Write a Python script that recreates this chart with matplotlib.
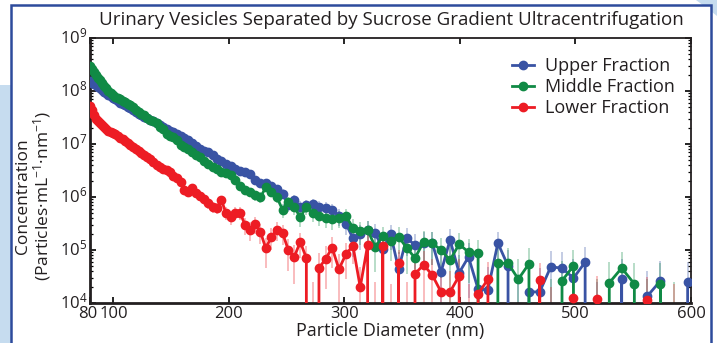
import numpy as np
import matplotlib.pyplot as plt
from matplotlib.patches import Rectangle, Polygon
from matplotlib.transforms import ScaledTranslation
from matplotlib.ticker import FixedLocator

plt.rcParams['font.family'] = ['Open Sans', 'DejaVu Sans']
plt.rcParams['mathtext.fontset'] = 'custom'
plt.rcParams['mathtext.rm'] = 'Open Sans'
plt.rcParams['mathtext.it'] = 'Open Sans:italic'
plt.rcParams['mathtext.bf'] = 'Open Sans:bold'

# %% data (log10 of concentration, None = zero count)
diameter = [
    80.0, 81.6, 83.3, 85.0, 86.7, 88.5, 90.3, 92.1, 94.0, 95.9,
    97.8, 99.8, 101.8, 103.9, 106.0, 108.2, 110.3, 112.6, 114.9, 117.2,
    119.6, 122.0, 124.5, 127.0, 129.6, 132.2, 134.9, 137.6, 140.5, 143.3,
    146.2, 149.2, 152.2, 155.3, 158.4, 161.7, 165.0, 168.3, 171.7, 175.2,
    178.7, 182.4, 186.1, 189.9, 193.7, 197.6, 201.6, 205.8, 209.9, 214.2,
    218.6, 223.0, 227.5, 232.1, 236.9, 241.6, 246.6, 251.6, 256.7, 261.9,
    267.2, 272.6, 278.1, 283.8, 289.5, 295.4, 301.4, 307.5, 313.8, 320.2,
    326.7, 333.3, 340.1, 347.0, 354.0, 361.2, 368.6, 376.1, 383.7, 391.5,
    399.4, 407.5, 415.8, 424.3, 432.9, 441.7, 450.6, 459.8, 469.1, 478.6,
    488.4, 498.3, 508.4, 518.7, 529.3, 540.0, 551.0, 562.2, 573.6, 585.2,
    597.1]

upper_log = [
    8.18, 8.16, 8.13, 8.11, 8.08, 8.05, 8.02, 7.99, 7.96, 7.93,
    7.90, 7.87, 7.84, 7.81, 7.78, 7.76, 7.73, 7.70, 7.67, 7.64,
    7.60, 7.57, 7.54, 7.51, 7.49, 7.46, 7.43, 7.40, 7.36, 7.33,
    7.29, 7.25, 7.22, 7.18, 7.15, 7.11, 7.07, 7.02, 6.97, 6.91,
    6.87, 6.84, 6.79, 6.72, 6.67, 6.62, 6.58, 6.52, 6.49, 6.47,
    6.43, 6.33, 6.27, 6.26, 6.20, 6.16, 6.06, 5.85, 5.94, 5.81,
    5.84, 5.86, 5.81, 5.79, 5.76, 5.64, 5.50, 5.22, 5.30, 5.38,
    5.32, 5.02, 5.30, 4.64, 5.23, 5.09, 5.13, 5.13, 4.58, 5.19,
    4.57, 4.87, 4.26, 4.25, 5.13, 4.70, None, 4.21, 4.21, 4.68,
    4.66, 4.47, 4.77, None, None, 4.45, None, 4.13, 4.42, None,
    4.40]

middle_log = [
    8.47, 8.42, 8.36, 8.30, 8.25, 8.20, 8.15, 8.10, 8.05, 8.00,
    7.96, 7.92, 7.89, 7.86, 7.84, 7.81, 7.79, 7.76, 7.73, 7.69,
    7.65, 7.61, 7.57, 7.54, 7.50, 7.46, 7.43, 7.39, 7.33, 7.28,
    7.18, 7.16, 7.14, 7.08, 6.98, 6.95, 6.90, 6.85, 6.80, 6.75,
    6.68, 6.62, 6.56, 6.52, 6.48, 6.45, 6.42, 6.33, 6.20, 6.13,
    6.10, 6.03, 6.00, 6.18, 6.09, 6.00, 5.76, 5.91, 5.81, 5.62,
    5.81, 5.70, 5.64, 5.60, 5.58, 5.61, 5.64, 5.42, 5.36, 5.38,
    5.06, 5.26, 5.17, 5.25, 5.04, 4.85, 5.15, 5.13, 5.00, 4.81,
    5.11, 4.96, 4.94, None, 4.75, 4.75, 4.45, 4.74, None, None,
    4.42, 4.70, None, None, 4.38, 4.66, 4.36, None, 4.36, None,
    None]

lower_log = [
    7.72, 7.64, 7.55, 7.48, 7.44, 7.40, 7.36, 7.32, 7.28, 7.24,
    7.22, 7.21, 7.19, 7.16, 7.12, 7.09, 7.06, 7.02, 6.99, 6.95,
    6.90, 6.86, 6.83, 6.79, 6.75, 6.71, 6.66, 6.61, 6.56, 6.53,
    6.51, 6.47, 6.40, 6.35, 6.29, 6.14, 6.10, 6.17, 6.08, 6.02,
    5.96, 5.88, 5.81, 5.79, 5.94, 5.70, 5.62, 5.70, 5.70, 5.47,
    5.38, 5.49, 5.34, 5.03, 5.25, 5.38, 5.32, 5.00, 4.87, 5.15,
    4.85, None, 4.66, 4.83, 5.04, 4.64, 4.92, 5.08, 4.30, 5.09,
    None, 5.08, None, 4.75, None, 4.55, 4.72, 4.53, 4.21, 4.21,
    4.51, None, 4.17, 4.45, None, None, None, None, 4.43, None,
    None, 4.09, None, 4.08, None, None, None, 4.06, None, None,
    None]

# error bars (log10 of half-width); hidden under the markers below ~178 nm
upper_err_log = [None] * 40 + [
    5.79, 5.77, 5.75, 5.71, 5.69, 5.66, 5.64, 5.61, 5.60, 5.59,
    5.57, 5.52, 5.49, 5.48, 5.45, 5.43, 5.38, 5.28, 5.32, 5.26,
    5.27, 5.28, 5.26, 5.25, 5.23, 5.17, 5.10, 4.96, 5.00, 5.04,
    5.01, 4.86, 5.00, 4.67, 4.97, 4.90, 4.92, 4.92, 4.64, 4.95,
    4.64, 4.79, 4.48, 4.48, 4.92, 4.70, 4.50, 4.46, 4.46, 4.69,
    4.68, 4.59, 4.74, 4.40, None, 4.58, 4.40, 4.42, 4.56, None,
    4.55]

middle_err_log = [None] * 40 + [
    5.69, 5.66, 5.63, 5.61, 5.59, 5.58, 5.56, 5.52, 5.45, 5.42,
    5.40, 5.37, 5.35, 5.44, 5.40, 5.35, 5.23, 5.31, 5.26, 5.16,
    5.26, 5.20, 5.17, 5.15, 5.14, 5.16, 5.17, 5.06, 5.03, 5.04,
    4.88, 4.98, 4.94, 4.98, 4.87, 4.78, 4.93, 4.92, 4.85, 4.76,
    4.91, 4.83, 4.82, 4.50, 4.73, 4.73, 4.58, 4.72, 4.45, 4.45,
    4.56, 4.70, 4.40, 4.45, 4.54, 4.68, 4.53, 4.45, 4.53, 4.40,
    None]

lower_err_log = [None] * 40 + [
    5.26, 5.22, 5.18, 5.17, 5.25, 5.13, 5.09, 5.13, 5.13, 5.01,
    4.97, 5.02, 4.95, 4.79, 4.90, 4.97, 4.94, 4.78, 4.71, 4.85,
    4.70, 4.40, 4.61, 4.69, 4.80, 4.60, 4.74, 4.82, 4.43, 4.82,
    4.40, 4.82, 4.35, 4.65, 4.40, 4.55, 4.64, 4.54, 4.38, 4.38,
    4.53, 4.35, 4.36, 4.50, 4.30, 4.35, None, 4.35, 4.49, 4.30,
    4.30, 4.32, None, 4.32, None, 4.35, None, 4.30, None, 4.35,
    None]

labels = ['Upper Fraction', 'Middle Fraction', 'Lower Fraction']
colors = ['#3953a4', '#108a45', '#ed1c24']
xtick_vals = [80, 100, 200, 300, 400, 500, 600]
ytick_vals = [1e4, 1e5, 1e6, 1e7, 1e8, 1e9]


def to_lin(vals):
    return np.array([0.0 if v is None else 10.0 ** v for v in vals])


# %% figure
W, H = 717, 343
fig = plt.figure(figsize=(W / 100, H / 100), dpi=100)


def fxy(x, y):
    return (x / W, 1 - y / H)


# page background bits and the white panel with its blue border
fig.patches.append(Rectangle(fxy(0, 343), 12 / W, (343 - 85) / H,
                             transform=fig.transFigure, facecolor='#c6dcef',
                             edgecolor='none', zorder=-3))
fig.patches.append(Polygon([fxy(696, 0), fxy(717, 0), fxy(717, 16), fxy(712, 12)],
                           closed=True, transform=fig.transFigure,
                           facecolor='#c6dcef', edgecolor='none', zorder=-3))
fig.patches.append(Rectangle(fxy(11, 360), (711 - 11) / W, (360 - 5) / H,
                             transform=fig.transFigure, facecolor='white',
                             edgecolor='#2d4b9c', lw=1.8, zorder=-2))

ax = fig.add_axes([90 / W, 1 - 303 / H, (691 - 90) / W, (303 - 38) / H])
ax.set_yscale('log')

x = np.array(diameter)
series = [(upper_log, upper_err_log), (middle_log, middle_err_log),
          (lower_log, lower_err_log)]

for (vals, errs), c in zip(series, colors):
    ax.errorbar(x, to_lin(vals), yerr=to_lin(errs), fmt='none', ecolor=c,
                elinewidth=1.2, alpha=0.35, zorder=1)

for (vals, errs), c, lab in zip(series, colors, labels):
    ax.plot(x, to_lin(vals), '-o', color=c, lw=2.0, ms=6, mec=c, mfc=c,
            label=lab, zorder=3)

ax.set_xlim(80, 600)
ax.set_ylim(1e4, 1e9)
ax.set_xticks(xtick_vals)
ax.set_xticklabels([str(v) for v in xtick_vals])
ax.yaxis.set_major_locator(FixedLocator(ytick_vals))
ax.tick_params(which='both', direction='in', top=True, right=True,
               color='black', labelsize=12, labelcolor='#231f20')
ax.tick_params(which='major', length=4, width=1.2, pad=2)
ax.tick_params(which='minor', length=2.2, width=0.9)
ax.xaxis.set_minor_locator(plt.NullLocator())

# nudge "80" and "100" apart so they sit side by side as "80100"
t80 = ax.xaxis.get_major_ticks()[0].label1
t80.set_transform(t80.get_transform() + ScaledTranslation(-0.02, 0, fig.dpi_scale_trans))
t100 = ax.xaxis.get_major_ticks()[1].label1
t100.set_transform(t100.get_transform() + ScaledTranslation(0.01, 0, fig.dpi_scale_trans))
# y labels sit a little high in the original
for tk in ax.yaxis.get_major_ticks():
    lab = tk.label1
    lab.set_transform(lab.get_transform() + ScaledTranslation(0, 0.03, fig.dpi_scale_trans))

for side in ['left', 'bottom']:
    ax.spines[side].set_linewidth(2.0)
for side in ['top', 'right']:
    ax.spines[side].set_linewidth(1.3)
for side in ax.spines:
    ax.spines[side].set_color('#231f20')

ax.set_xlabel('Particle Diameter (nm)', fontsize=13, color='#231f20', labelpad=0)
fig.text(34 / W, 1 - 196 / H,
         'Concentration\n(Particles·mL$^{-1}$·nm$^{-1}$)',
         rotation=90, ha='center', va='center', multialignment='center',
         fontsize=12.5, color='#231f20', linespacing=1.05)
fig.text(391 / W, 1 - 20 / H,
         'Urinary Vesicles Separated by Sucrose Gradient Ultracentrifugation',
         ha='center', va='center', fontsize=13.5, color='#231f20')

leg = ax.legend(loc='upper left', bbox_to_anchor=(0.702, 0.927), frameon=False,
                fontsize=13, handlelength=1.25, handletextpad=0.6,
                labelspacing=0.17, borderpad=0, borderaxespad=0)
for t in leg.get_texts():
    t.set_color('#231f20')

fig.savefig('out.png', dpi=100)
